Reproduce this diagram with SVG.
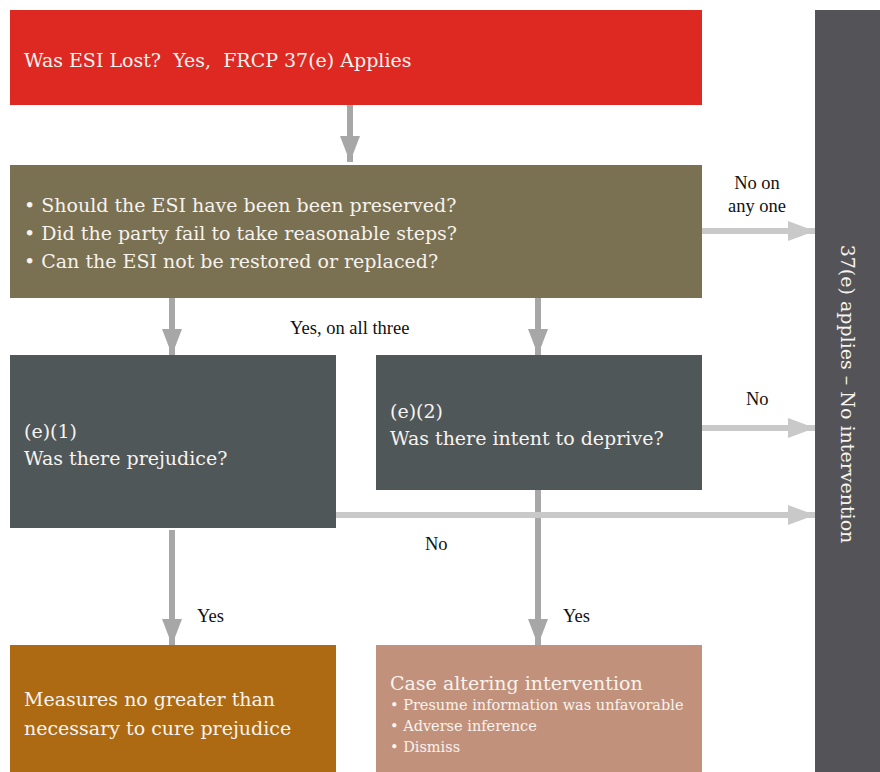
<svg xmlns="http://www.w3.org/2000/svg" width="880" height="772" viewBox="0 0 880 772">
<style>
.box{font-family:"DejaVu Serif","Liberation Serif",serif;fill:#f7f3ee;font-size:19px}
.small{font-size:14.5px}
.lbl{font-family:"Liberation Serif","Times New Roman",serif;fill:#111;font-size:18.5px}
.dk{stroke:#a7a7a7;stroke-width:6;fill:none}
.lt{stroke:#c9c9c9;stroke-width:6;fill:none}
</style>
<defs>
<marker id="ad" markerUnits="userSpaceOnUse" markerWidth="26" markerHeight="20" refX="26" refY="10" orient="auto"><path d="M0,0 L26,10 L0,20 Z" fill="#a7a7a7"/></marker>
<marker id="al" markerUnits="userSpaceOnUse" markerWidth="27" markerHeight="20" refX="27" refY="10" orient="auto"><path d="M0,0 L27,10 L0,20 Z" fill="#c9c9c9"/></marker>
</defs>
<g id="connectors">
<line class="dk" x1="350" y1="105" x2="350" y2="162" marker-end="url(#ad)"/>
<line class="lt" x1="702" y1="231" x2="815" y2="231" marker-end="url(#al)"/>
<line class="dk" x1="172" y1="298" x2="172" y2="355" marker-end="url(#ad)"/>
<line class="dk" x1="538" y1="298" x2="538" y2="355" marker-end="url(#ad)"/>
<line class="lt" x1="702" y1="428" x2="815" y2="428" marker-end="url(#al)"/>
<line class="dk" x1="538" y1="490" x2="538" y2="645" marker-end="url(#ad)"/>
<line class="lt" x1="336" y1="515" x2="815" y2="515" marker-end="url(#al)"/>
<line class="dk" x1="172" y1="530" x2="172" y2="645" marker-end="url(#ad)"/>
<text class="lbl" x="757" y="189" text-anchor="middle">No on</text>
<text class="lbl" x="757" y="212" text-anchor="middle">any one</text>
<text class="lbl" x="290" y="334">Yes, on all three</text>
<text class="lbl" x="746" y="405">No</text>
<text class="lbl" x="425" y="550">No</text>
<text class="lbl" x="197" y="622">Yes</text>
<text class="lbl" x="563" y="622">Yes</text>
</g>
<g id="start">
<rect x="10" y="10" width="692" height="95" fill="#dd2922"/>
<text class="box" x="24" y="67" style="white-space:pre" xml:space="preserve">Was ESI Lost?  Yes,  FRCP 37(e) Applies</text>
</g>
<g id="criteria">
<rect x="10" y="165" width="692" height="133" fill="#7a7052"/>
<text class="box" x="24" y="212">• Should the ESI have been been preserved?</text>
<text class="box" x="24" y="240">• Did the party fail to take reasonable steps?</text>
<text class="box" x="24" y="268">• Can the ESI not be restored or replaced?</text>
</g>
<g id="no-intervention">
<rect x="815" y="10" width="65" height="762" fill="#545458"/>
<text class="box" transform="translate(841,394) rotate(90)" text-anchor="middle">37(e) applies – No intervention</text>
</g>
<g id="e1">
<rect x="10" y="355" width="326" height="173" fill="#4f5759"/>
<text class="box" x="24" y="438">(e)(1)</text>
<text class="box" x="24" y="465">Was there prejudice?</text>
</g>
<g id="e2">
<rect x="376" y="355" width="326" height="135" fill="#4f5759"/>
<text class="box" x="390" y="418">(e)(2)</text>
<text class="box" x="390" y="445">Was there intent to deprive?</text>
</g>
<g id="measures">
<rect x="10" y="645" width="326" height="127" fill="#ad6a12"/>
<text class="box" x="24" y="706">Measures no greater than</text>
<text class="box" x="24" y="735">necessary to cure prejudice</text>
</g>
<g id="case-altering">
<rect x="376" y="645" width="326" height="127" fill="#c2917c"/>
<text class="box" x="390" y="690">Case altering intervention</text>
<text class="box small" x="390" y="710">• Presume information was unfavorable</text>
<text class="box small" x="390" y="731">• Adverse inference</text>
<text class="box small" x="390" y="752">• Dismiss</text>
</g>
</svg>
